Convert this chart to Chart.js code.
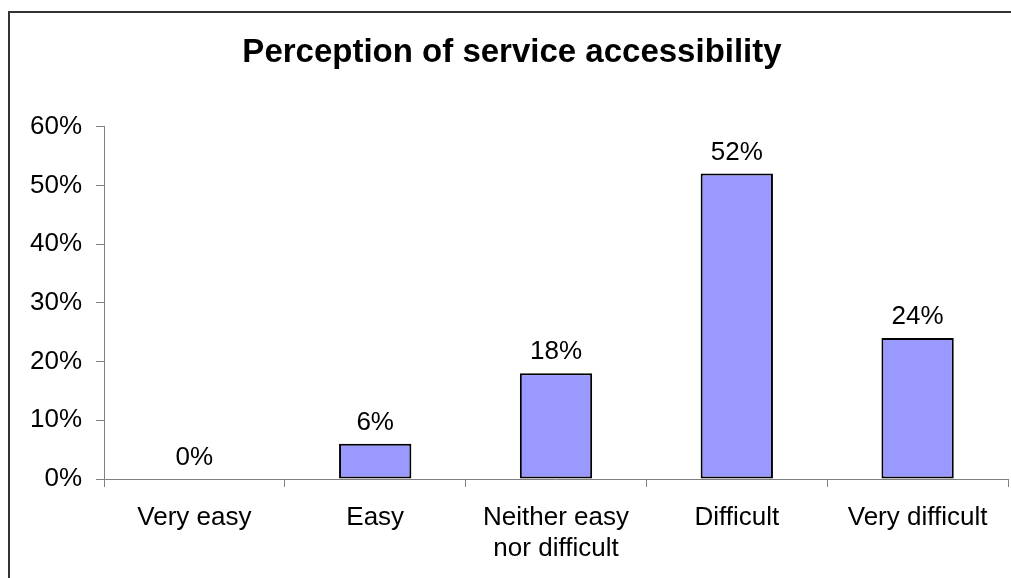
<!DOCTYPE html>
<html>
<head>
<meta charset="utf-8">
<script src="https://cdn.jsdelivr.net/npm/chart.js@4/dist/chart.umd.min.js"></script>
<style>
  body { margin: 0; background: #fff; }
  #wrap { width: 1011px; height: 578px; }
</style>
</head>
<body>
<div id="wrap"><canvas id="accessChart" width="1011" height="578"></canvas></div>
<script>
// chart data
const categories = ['Very easy', 'Easy', ['Neither easy', 'nor difficult'], 'Difficult', 'Very difficult'];
const shares = [0, 6, 18, 52, 24]; // percent of respondents
const yTicks = [0, 10, 20, 30, 40, 50, 60];

const FONT = "'Liberation Sans', Arial, sans-serif";
const axisGray = '#808080';

// value labels on top of each bar
const valueLabels = {
  id: 'valueLabels',
  afterDatasetsDraw(chart) {
    const ctx = chart.ctx;
    const meta = chart.getDatasetMeta(0);
    ctx.save();
    ctx.font = '26px ' + FONT;
    ctx.fillStyle = '#000';
    ctx.textAlign = 'center';
    ctx.textBaseline = 'alphabetic';
    meta.data.forEach((bar, i) => {
      ctx.fillText(shares[i] + '%', bar.x, bar.y - 14);
    });
    ctx.restore();
  }
};

// outer frame (only left and top edges are inside the picture)
const frame = {
  id: 'frame',
  beforeDraw(chart) {
    const ctx = chart.ctx;
    ctx.save();
    ctx.strokeStyle = '#333';
    ctx.lineWidth = 2;
    ctx.beginPath();
    ctx.moveTo(9, chart.height);
    ctx.lineTo(9, 12);
    ctx.lineTo(chart.width, 12);
    ctx.stroke();
    ctx.restore();
  }
};

new Chart(document.getElementById('accessChart'), {
  type: 'bar',
  data: {
    labels: categories,
    datasets: [{
      data: shares,
      backgroundColor: '#9999FF',
      borderColor: '#000',
      borderWidth: 2,
      borderSkipped: false,
      barPercentage: 0.4,
      categoryPercentage: 1
    }]
  },
  options: {
    responsive: false,
    animation: false,
    devicePixelRatio: 1,
    layout: { padding: { left: 16, right: 3, top: 0, bottom: 0 } },
    plugins: {
      legend: { display: false },
      tooltip: { enabled: false },
      title: {
        display: true,
        text: 'Perception of service accessibility',
        color: '#000',
        font: { family: FONT, size: 33, weight: 'bold' },
        padding: { top: 33, bottom: 54 }
      }
    },
    scales: {
      x: {
        grid: { drawOnChartArea: false, drawTicks: true, tickLength: 8, color: axisGray, offset: true },
        border: { color: axisGray, width: 1 },
        ticks: { color: '#000', font: { family: FONT, size: 26 }, padding: 15, maxRotation: 0, autoSkip: false },
        afterFit(scale) { scale.height = 99; }
      },
      y: {
        min: 0,
        max: 60,
        afterBuildTicks(scale) { scale.ticks = yTicks.map(v => ({ value: v })); },
        grid: { drawOnChartArea: false, drawTicks: true, tickLength: 8, color: axisGray },
        border: { color: axisGray, width: 1 },
        ticks: {
          color: '#000',
          font: { family: FONT, size: 26 },
          padding: 14,
          callback: v => v + '%'
        },
        afterFit(scale) { scale.width = 88; }
      }
    }
  },
  plugins: [frame, valueLabels]
});
</script>
</body>
</html>
